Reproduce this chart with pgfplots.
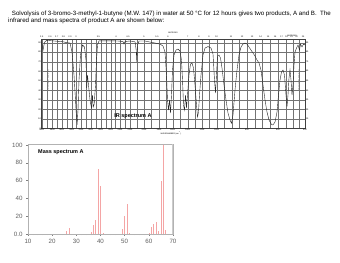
\documentclass[border=0pt]{standalone}
\usepackage{fontspec}
\setmainfont{Liberation Sans}
\usepackage{pgfplots}
\pgfplotsset{compat=1.18}
\definecolor{barpink}{RGB}{244,165,165}
\definecolor{ticklab}{RGB}{95,95,95}

\begin{document}
\begin{tikzpicture}[x=1bp,y=1bp]
\path[use as bounding box, fill=white] (0bp,0bp) rectangle (340bp,263bp);

% ---------- heading text ----------
\node[anchor=west, inner sep=0, font=\fontsize{6.2}{7}\selectfont] at (11.7bp,249bp)
  {Solvolysis of 3-bromo-3-methyl-1-butyne (M.W. 147) in water at 50 °C for 12 hours gives two products, A and B.\ \ The};
\node[anchor=west, inner sep=0, font=\fontsize{6.2}{7}\selectfont] at (8bp,242.3bp)
  {infrared and mass spectra of product A are shown below:};

% ---------- IR spectrum ----------
\begin{axis}[
  at={(41.7bp,134.7bp)}, anchor=south west, scale only axis,
  width=263.3bp, height=88.8bp,
  xmin=41.7, xmax=305, ymin=0, ymax=93.4,
  xtick={41.7,52.3,61.7,71.7,81,90.7,100.7,110.7,120,130,144,159,172.7,187.7,202,216.7,247,278,305},
  xticklabels={4000,3800,3600,3400,3200,3000,2800,2600,2400,2200,2000,1800,1600,1400,1200,1000,800,600,400},
  minor xtick={47,57,66.7,76.3,85.8,95.7,105.7,115.3,125,137,151.5,165.8,180.2,194.8,209.3,224.3,231.8,239.5,254.7,262.5,270.2,285.7,293.3,299},
  ytick={0,10,...,90},
  grid=both,
  major grid style={black!55, line width=0.35bp},
  minor grid style={black!55, line width=0.35bp},
  major tick length=0pt, minor tick length=0pt,
  axis line style={black!75, line width=0.45bp},
  xticklabel style={font=\fontsize{2.2}{2.4}\selectfont, inner sep=0.4bp},
  yticklabel style={font=\fontsize{2.2}{2.4}\selectfont, inner sep=0.6bp},
  /pgf/number format/assume math mode=true,
]
\addplot[black!85, line width=0.4bp, mark=none] coordinates {
(41.7,91) (43,82) (44.5,90.5) (46.7,92.5) (52,92) (58,91.5) (63,91) (67,90) (70,89.7)
(72,80.2) (74,56) (75.5,29.8) (76.5,10.8) (77.2,5.6) (78,19.2) (79,50.8) (80.5,77.1)
(82.5,87.6) (84.5,85.5) (86,71.8) (86.7,42.4) (87.5,56) (88.5,45.5) (90,29.8) (91.5,21.3)
(92.5,35) (93.2,22.4) (94.2,25.5) (95.5,45.5) (96.5,71.8) (97.5,87.6) (99,92) (105,92)
(112,92) (118,91.8) (123,91.3) (124,88.6) (125,91.3) (130,91.8) (135,91) (136.2,82.3)
(136.8,69.7) (137.5,87.6) (139,91.8) (145,91.8) (150,90.7) (155,89.7) (160,88.6) (163,86.5)
(165,80.2) (166.5,56) (167.5,29.8) (168.5,19.2) (169.5,29.8) (170.5,16.1) (171.5,35)
(172.5,61.3) (174,77.1) (176,82.3) (178,83.4) (180,81.3) (181.5,71.8) (182.5,50.8)
(183.5,24.5) (184.5,19.2) (185.5,35) (186.5,21.3) (187.5,35) (189,56) (190.5,67.6)
(192,68.7) (193.5,63.4) (195,45.5) (196.5,24.5) (197.5,11.9) (198.5,17.1) (199.5,35)
(201,56) (203,77.1) (205,84.4) (208,86) (211,84.4) (213,78.1) (214.5,50.8) (215.5,37.1)
(216.5,56) (217.5,76) (219,77.1) (220.5,73.9) (222,63.4) (224,45.5) (226,29.8) (228,16.1)
(230,8.7) (231.5,5.3) (233,14) (235,40.3) (237,61.3) (239,77.1) (241,85.5) (243,88.6)
(245,89.7) (247,88.6) (249,85.5) (251,82.3) (253,79.2) (255,76) (257,71.8) (259,68.7)
(261,61.3) (263,45.5) (265,29.8) (267,17.1) (269,8.7) (271.5,4) (273,3.5) (275,6.6)
(277,17.1) (278.5,35) (280,50.8) (281.5,59.2) (283,61.3) (284.5,56) (286,35) (287,22.7)
(288,35) (289,52.9) (290,61.3) (291,50.8) (292,35) (293,45.5) (294,66.6) (295,80.2)
(296.5,84.4) (298,87.6) (299.5,82.3) (300.5,88.6) (302,85.5) (303.5,88.6) (305,87.6)
};
\end{axis}

% IR decorations: micron scale on top, right-hand %T scale, captions
\foreach \p/\l in {41.7/2.5,50/2.6,56.7/2.7,63.3/2.8,70/2.9,76/3,98.3/3.5,116/4,128/4.5,144/5,157/5.5,168/6,187.7/7,199/8,209/9,216.7/10,231/11,242/12,252/13,260.7/14,268/15,275/16,281.7/17,286.7/18,291.7/19,296.7/20,303/25}
  \node[inner sep=0, font=\fontsize{2.2}{2.4}\selectfont] at (\p bp,225.8bp) {\l};
\foreach \k in {1,...,9}
  \node[inner sep=0, anchor=west, font=\fontsize{2.2}{2.4}\selectfont] at (305.8bp,{(134.7+9.51*\k)*1bp}) {\pgfmathparse{int(10*\k)}\pgfmathresult};
\node[inner sep=0, font=\fontsize{2}{2.2}\selectfont] at (173bp,230bp) {MICRONS};
\node[inner sep=0, font=\fontsize{2}{2.2}\selectfont] at (292bp,227.5bp) {MICRONS};
\node[inner sep=0, font=\fontsize{2}{2.2}\selectfont] at (171bp,129.8bp) {WAVENUMBER (cm\textsuperscript{-1})};
\node[inner sep=0, rotate=90, text=black!60, font=\fontsize{2}{2.2}\selectfont] at (48.3bp,183bp) {TRANSMITTANCE (\%)};
\node[inner sep=0, rotate=90, text=black!60, font=\fontsize{2}{2.2}\selectfont] at (299bp,183bp) {TRANSMITTANCE (\%)};
\node[inner sep=0, font=\bfseries\fontsize{5.5}{6}\selectfont] at (133bp,147.3bp) {IR spectrum A};

% ---------- Mass spectrum ----------
\begin{axis}[
  at={(28bp,29bp)}, anchor=south west, scale only axis,
  width=145bp, height=90bp,
  xmin=10, xmax=70, ymin=0, ymax=101,
  xtick={10,20,...,70}, minor x tick num=4,
  ytick={0,20,40,60,80,100}, yticklabels={0.0,20,40,60,80,100},
  xtick pos=bottom, ytick pos=left,
  tick align=outside, major tick length=2bp, minor tick length=1.2bp,
  axis line style={black!30, line width=0.4bp},
  tick style={black!50, line width=0.4bp},
  ticklabel style={font=\fontsize{6.2}{7}\selectfont, text=ticklab},
  /pgf/number format/assume math mode=true,
]
\addplot[ycomb, barpink, line width=0.6bp, mark=none] coordinates {
(26,3) (27,7) (36,2) (37,10) (38,16) (39,73) (40,54) (41,1.5)
(49,6) (50,20) (51,34) (52,1.5)
(60,1) (61,8) (62,11) (63,14) (64,3) (65,60) (66,100) (67,5)
};
\draw[black!20, line width=1.4bp] (axis cs:70,0) -- (axis cs:70,101);
\end{axis}
\node[anchor=west, inner sep=0, font=\bfseries\fontsize{5.5}{6}\selectfont] at (38bp,111bp) {Mass spectrum A};

\end{tikzpicture}
\end{document}
